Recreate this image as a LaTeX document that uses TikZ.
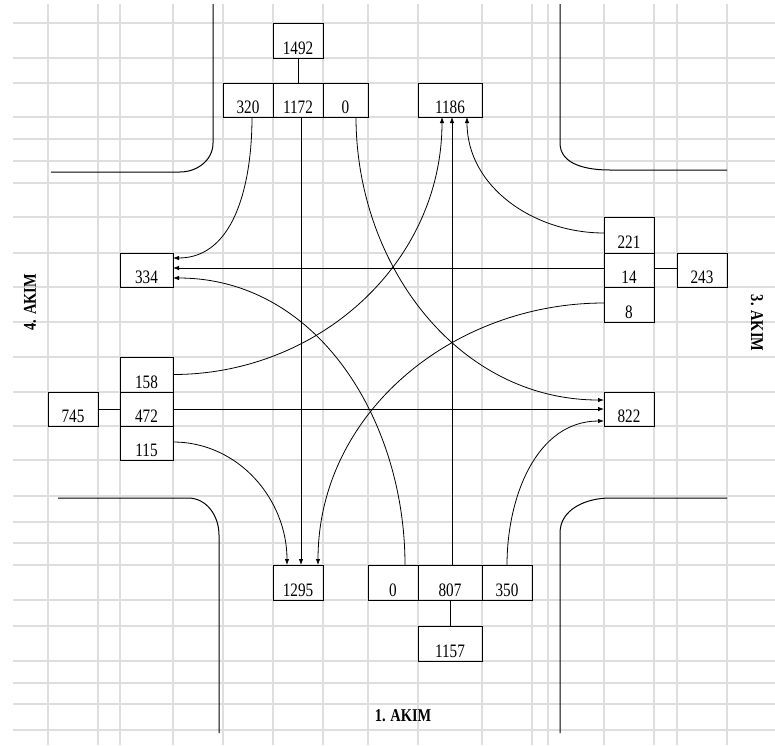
\documentclass[tikz,border=0pt]{standalone}
\usepackage{fontspec}
\newfontfamily\numfont{Liberation Serif}[FakeStretch=0.8]
\usetikzlibrary{positioning, arrows.meta}

\begin{document}
\begin{tikzpicture}[x=1pt, y=1pt,
    cell/.style={draw, line width=0.9pt, inner sep=0pt, outer sep=0pt, minimum width=50pt, minimum height=34pt,
                 text height=27pt, text depth=0pt, font=\numfont\fontsize{19}{21}\selectfont},
    flow/.style={-{Latex[length=6pt, width=4.5pt]}, line width=0.8pt},
    link/.style={line width=0.8pt},
    road/.style={line width=1pt},
    gridline/.style={draw=black!13, line width=1.2pt},
    akim/.style={font=\numfont\fontsize{18}{20}\selectfont\bfseries}
]
\useasboundingbox (0,0) rectangle (775,-745);

% spreadsheet grid
\foreach \gx in {48,98,120,173,223,273,323,368,418,482,532,548,604,654,677,727}
    \draw[gridline] (\gx,-4) -- (\gx,-745);
\foreach \gy in {23,58,83,117,139,161,183,217,253,287,322,357,392,426,460,496,522,543,565,600,626,661,683,704,730}
    \draw[gridline] (13,-\gy) -- (775,-\gy);

% road edges
\draw[road] (213,-4) -- (213,-143) to[out=-90, in=0] (180,-172) -- (51,-172);
\draw[road] (560,-4) -- (560,-143) to[out=-90, in=180] (610,-170) -- (727,-170);
\draw[road] (58,-498) -- (188,-498) to[out=0, in=90] (219,-535) -- (219,-733);
\draw[road] (727,-498) -- (610,-498) to[out=180, in=90] (560,-533) -- (560,-733);

% 2. akim (top)
\node[cell] (n1172) at (298,-100) {1172};
\node[cell, left=0pt of n1172] (n320) {320};
\node[cell, right=0pt of n1172, minimum width=45pt] (n0top) {0};
\node[cell, above=25pt of n1172, minimum height=35pt] (n1492) {1492};
\node[cell, minimum width=64pt] (n1186) at (450,-100) {1186};

% 3. akim (right)
\node[cell] (n14) at (629,-270) {14};
\node[cell, above=0pt of n14, minimum height=36pt] (n221) {221};
\node[cell, below=0pt of n14, minimum height=35pt] (n8) {8};
\node[cell, right=23pt of n14] (n243) {243};
\node[cell] (n822) at (629,-409) {822};

% 4. akim (left)
\node[cell, minimum width=53pt] (n334) at (146.5,-270) {334};
\node[cell, minimum width=53pt] (n472) at (146.5,-409) {472};
\node[cell, above=0pt of n472, minimum width=53pt, minimum height=35pt] (n158) {158};
\node[cell, below=0pt of n472, minimum width=53pt] (n115) {115};
\node[cell, left=22pt of n472] (n745) {745};

% 1. akim (bottom)
\node[cell, minimum height=35pt] (n1295) at (298,-582.5) {1295};
\node[cell, minimum width=64pt, minimum height=35pt] (n807) at (450,-582.5) {807};
\node[cell, left=0pt of n807, minimum height=35pt] (n0bot) {0};
\node[cell, right=0pt of n807, minimum height=35pt] (n350) {350};
\node[cell, below=26pt of n807, minimum width=64pt, minimum height=35pt] (n1157) {1157};

% approach labels
\node[akim, rotate=90] (a4) at (30,-302) {4. AKIM};
\node[akim, rotate=-90] (a3) at (757,-323) {3. AKIM};
\node[akim] (a1) at (403,-716) {1. AKIM};

% totals
\draw[link] (n1492.south) -- (n1172.north);
\draw[link] ([yshift=2pt]n243.west) -- ([yshift=2pt]n14.east);
\draw[link] (n745.east) -- (n472.west);
\draw[link] (n807.south) -- (n1157.north);

% turning movements
\draw[flow] ([xshift=4pt]n320.south) to[out=-90, in=0] ([yshift=12pt]n334.east);
\draw[flow] ([xshift=3pt]n1172.south) -- ([xshift=3pt]n1295.north);
\draw[flow] ([xshift=10.5pt]n0top.south) to[out=-90, in=180] ([yshift=9pt]n822.west);

\draw[flow] ([yshift=2pt]n221.west) to[out=180, in=-90] ([xshift=17pt]n1186.south);
\draw[flow] ([yshift=2pt]n14.west) -- ([yshift=2pt]n14.west -| n334.east);
\draw[flow] ([yshift=1.5pt]n8.west) to[out=180, in=90] ([xshift=20pt]n1295.north);

\draw[flow] (n158.east) to[out=0, in=-90] ([xshift=-8pt]n1186.south);
\draw[flow] (n472.east) -- (n822.west);
\draw[flow] ([yshift=1pt]n115.east) to[out=0, in=90] ([xshift=-11pt]n1295.north);

\draw[flow] ([xshift=12pt]n0bot.north) to[out=90, in=0] ([yshift=-8pt]n334.east);
\draw[flow] ([xshift=2pt]n807.north) -- ([xshift=2pt]n1186.south);
\draw[flow] (n350.north) to[out=90, in=180] ([yshift=-12pt]n822.west);

\end{tikzpicture}
\end{document}
